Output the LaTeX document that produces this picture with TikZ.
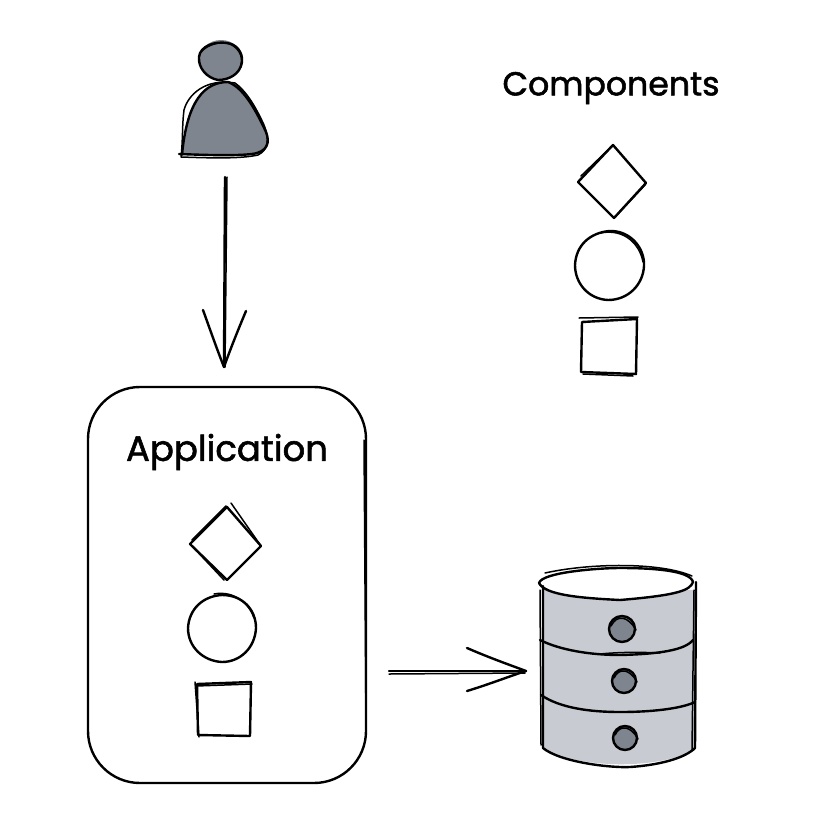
\documentclass[tikz,border=0pt]{standalone}
\usepackage{fontspec}
\setmainfont{Poppins}[FakeBold=1.6]
\tikzset{
  ink/.style={draw=black,line width=2.4pt,line cap=round,line join=round},
  thin ink/.style={draw=black,line width=1.5pt,line cap=round,line join=round},
  label text/.style={inner sep=0pt,font=\fontsize{37}{40}\selectfont},
}
\definecolor{personGrey}{HTML}{7F858E}
\definecolor{dbGrey}{HTML}{C8CCD2}
\begin{document}
\begin{tikzpicture}[x=1pt,y=-1pt]
\useasboundingbox (0,0) rectangle (832,830);
% person
\coordinate (userbottom) at (225,177);
\fill[personGrey] (183,155) .. controls (184,115) and (195,85) .. (227,81) .. controls (250,85) and (262,120) .. (268,140) .. controls (268,150) and (262,155) .. (245,155) -- cycle;
\fill[personGrey] (221,60) ellipse [x radius=22,y radius=20];
\draw[ink] (179,154) .. controls (205,155) and (235,156) .. (252,154) .. controls (268,152) and (270,142) .. (266,132) .. controls (258,115) and (245,88) .. (228,82) .. controls (205,82) and (187,100) .. (182,155);
\draw[thin ink] (181,157) .. controls (210,158) and (240,159) .. (258,155) .. controls (268,150) and (270,140) .. (264,125) .. controls (255,105) and (245,90) .. (235,83) .. controls (205,78) and (188,95) .. (184,110) .. controls (182,125) and (183,140) .. (181,157);
\draw[ink] (199,57) .. controls (200,46) and (215,41) .. (227,43) .. controls (236,44) and (243,52) .. (242,62) .. controls (240,75) and (228,80) .. (218,80) .. controls (207,78) and (198,68) .. (199,57);
\draw[thin ink] (201,52) .. controls (208,44) and (222,40) .. (232,45) .. controls (240,50) and (244,58) .. (240,68);
% top arrow
\coordinate (apptop) at (224,367);
\draw[ink] (userbottom) -- (apptop);
\draw[thin ink] ([xshift=2pt]userbottom) -- ([xshift=1pt]apptop);
\draw[ink] (203,310) .. controls (212,335) and (218,352) .. (apptop);
\draw[ink] (246,311) .. controls (238,330) and (230,350) .. (apptop);
% components
\node[label text,anchor=center] (components) at (611,88) {\resizebox{217pt}{!}{Components}};
\coordinate (d1t) at (613,145); \coordinate (d1r) at (646,183); \coordinate (d1b) at (614,218); \coordinate (d1l) at (578,182);
\draw[ink] (d1t) -- (d1r) -- (d1b) -- (d1l) -- cycle;
\draw[thin ink] (581,176) -- (611,147) (615,217) -- (645,185);
\draw[ink] (609,231) .. controls (630,230) and (645,248) .. (644,266) .. controls (643,285) and (628,300) .. (608,300) .. controls (588,299) and (575,283) .. (575,265) .. controls (576,245) and (590,233) .. (609,231);
\draw[thin ink] (600,233) .. controls (625,228) and (640,245) .. (643,262);
\draw[ink] (582,322) -- (637,319) -- (636,374) -- (581,372) -- cycle;
\draw[thin ink] (579,318) -- (638,317) (633,376) -- (583,374);
% application
\node[ink,minimum width=278pt,minimum height=396pt,rounded corners=52pt,inner sep=0pt] (app) at (227,585) {};
\draw[thin ink] (364,440) -- (366,730);
\node[label text,anchor=center] (applabel) at (227,452) {\resizebox{202pt}{!}{Application}};
\coordinate (d2t) at (227,507); \coordinate (d2r) at (261,546); \coordinate (d2b) at (227,580); \coordinate (d2l) at (190,544);
\draw[ink] (d2t) -- (d2r) -- (d2b) -- (d2l) -- cycle;
\draw[thin ink] (231,503) -- (261,546) (192,540) -- (226,506) (224,580) -- (192,546);
\draw[ink] (222,595) .. controls (243,595) and (256,610) .. (256,628) .. controls (255,648) and (240,662) .. (222,662) .. controls (203,661) and (188,647) .. (188,628) .. controls (189,609) and (203,596) .. (222,595);
\draw[thin ink] (214,594) .. controls (235,590) and (250,605) .. (254,618);
\draw[ink] (197,684) -- (251,682) -- (250,736) -- (198,735) -- cycle;
\draw[thin ink] (195,682) -- (199,737) (196,686) -- (252,684);
% database
\coordinate (dbleft) at (526,671);
\fill[dbGrey] (543,590) -- (695,590) -- (695,750) .. controls (660,768) and (590,770) .. (543,750) -- cycle;
\fill[white] (539,583) .. controls (545,560) and (690,560) .. (693,582) .. controls (680,605) and (555,605) .. (539,583) -- cycle;
\draw[ink] (539,583) .. controls (542,572) and (600,568) .. (620,568) .. controls (650,568) and (690,570) .. (693,582) .. controls (690,590) and (680,595) .. (620,600) .. controls (580,598) and (545,595) .. (539,583) -- cycle;
\draw[thin ink] (545,573) .. controls (590,563) and (660,562) .. (692,576);
\draw[ink] (543,586) -- (543,748) .. controls (560,762) and (610,768) .. (630,767) .. controls (660,765) and (685,758) .. (695,748) -- (696,582);
\draw[thin ink] (540,590) -- (541,745) (694,590) -- (692,750);
\draw[ink] (540,640) .. controls (560,650) and (590,655) .. (620,655) .. controls (660,654) and (685,650) .. (693,640);
\draw[thin ink] (600,654) .. controls (620,652) and (640,652) .. (660,653);
\draw[ink] (541,695) .. controls (560,708) and (590,712) .. (620,712) .. controls (660,712) and (685,707) .. (695,702);
\foreach \name/\cx/\cy/\r in {dot1/622/629/13, dot2/624/681/12, dot3/625/738/12} {
  \fill[personGrey] (\cx,\cy) circle [radius=\r];
  \draw[ink] (\cx,\cy) circle [radius=\r];
  \draw[thin ink] (\cx-\r+2,\cy-3) .. controls (\cx-5,\cy-\r-2) and (\cx+6,\cy-\r) .. (\cx+\r+1,\cy+1);
}
% right arrow
\coordinate (appright) at (389,671);
\draw[ink] (appright) -- (dbleft);
\draw[thin ink] (389,674) -- (525,673);
\draw[ink] (467,648) .. controls (490,658) and (510,665) .. (dbleft);
\draw[ink] (467,691) .. controls (490,684) and (510,676) .. (dbleft);
\end{tikzpicture}
\end{document}
